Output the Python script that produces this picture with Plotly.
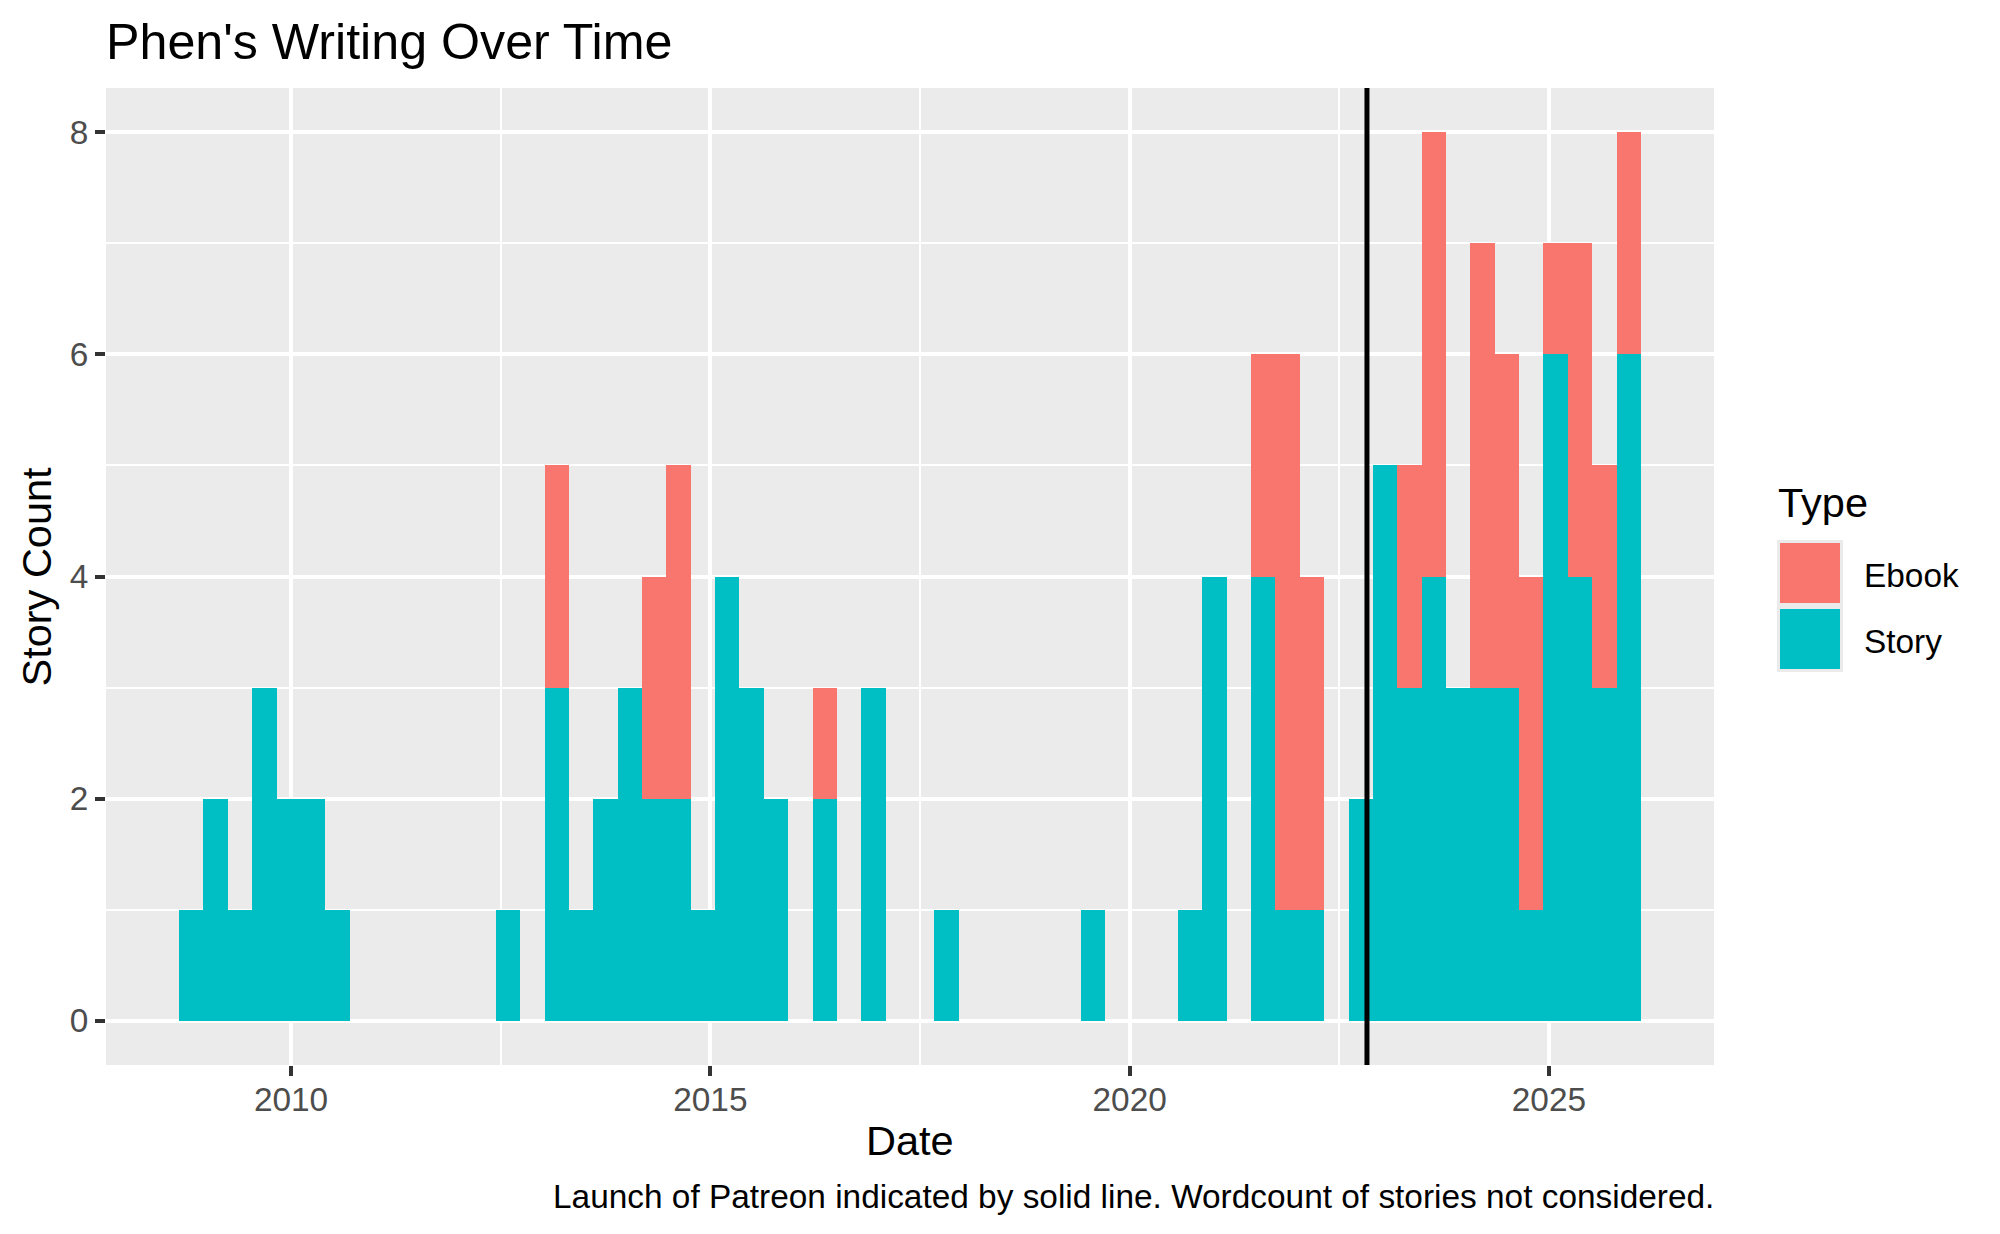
import plotly.graph_objects as go

# ---------------- data ----------------
BIN_START = 2008.665      # left edge of first histogram bin (decimal year)
BIN_WIDTH = 0.29053       # bin width in years (60 bins)

story_counts = [1, 2, 1, 3, 2, 2, 1, 0, 0, 0,
                0, 0, 0, 1, 0, 3, 1, 2, 3, 2,
                2, 1, 4, 3, 2, 0, 2, 0, 3, 0,
                0, 1, 0, 0, 0, 0, 0, 1, 0, 0,
                0, 1, 4, 0, 4, 1, 1, 0, 2, 5,
                3, 4, 3, 3, 3, 1, 6, 4, 3, 6]
ebook_counts = [0, 0, 0, 0, 0, 0, 0, 0, 0, 0,
                0, 0, 0, 0, 0, 2, 0, 0, 0, 2,
                3, 0, 0, 0, 0, 0, 1, 0, 0, 0,
                0, 0, 0, 0, 0, 0, 0, 0, 0, 0,
                0, 0, 0, 0, 2, 5, 3, 0, 0, 0,
                2, 4, 0, 4, 3, 3, 1, 3, 2, 2]

x_tick_vals = [2010, 2015, 2020, 2025]
x_tick_text = ["2010", "2015", "2020", "2025"]
x_minor_vals = [2007.5, 2012.5, 2017.5, 2022.5]
y_tick_vals = [0, 2, 4, 6, 8]
y_tick_text = ["0", "2", "4", "6", "8"]
y_minor_vals = [1, 3, 5, 7]
PATREON_LAUNCH = 2022.83

type_names = ["Ebook", "Story"]
type_colors = {"Ebook": "#F8766D", "Story": "#00BFC4"}

TITLE = "Phen's Writing Over Time"
X_TITLE = "Date"
Y_TITLE = "Story Count"
CAPTION = "Launch of Patreon indicated by solid line. Wordcount of stories not considered."

# ---------------- derived ----------------
n_bins = len(story_counts)
bin_centers = [BIN_START + (i + 0.5) * BIN_WIDTH for i in range(n_bins)]
data_lo = BIN_START
data_hi = BIN_START + n_bins * BIN_WIDTH
pad_x = 0.05 * (data_hi - data_lo)
x_range = [data_lo - pad_x, data_hi + pad_x]
y_max = max(s + e for s, e in zip(story_counts, ebook_counts))
y_range = [-0.05 * y_max, y_max * 1.05]

# ---------------- layout geometry (screen pixels; page has an 8px body margin) ----------------
OFF = 8
W, H = 2000 - 2 * OFF, 1234 - 2 * OFF
PANEL_L, PANEL_R, PANEL_T, PANEL_B = 106, 1714, 88, 1065
L = PANEL_L - OFF
R = OFF + W - PANEL_R
T = PANEL_T - OFF
B = OFF + H - PANEL_B
PW, PH = PANEL_R - PANEL_L, PANEL_B - PANEL_T


def px(x):
    return (x - PANEL_L) / PW


def py(y):
    return (PANEL_B - y) / PH


FONT = "Liberation Sans, Arial, sans-serif"
SMALL = 33.4
MID = 41.5
BIG = 50.2

fig = go.Figure()
fig.add_trace(go.Bar(x=bin_centers, y=story_counts, name="Story",
                     marker=dict(color=type_colors["Story"], line=dict(width=0)),
                     showlegend=False))
fig.add_trace(go.Bar(x=bin_centers, y=ebook_counts, name="Ebook",
                     marker=dict(color=type_colors["Ebook"], line=dict(width=0)),
                     showlegend=False))

fig.add_shape(type="line", xref="x", yref="paper", x0=PATREON_LAUNCH, x1=PATREON_LAUNCH,
              y0=0, y1=1, line=dict(color="black", width=5), layer="above")

# manual ggplot-like legend
fig.add_shape(type="rect", xref="paper", yref="paper", x0=px(1777), x1=px(1843),
              y0=py(672), y1=py(540), fillcolor="#EBEBEB", line=dict(width=0))
key_tops = {"Ebook": 543, "Story": 609}
for nm in type_names:
    t = key_tops[nm]
    fig.add_shape(type="rect", xref="paper", yref="paper", x0=px(1780), x1=px(1840),
                  y0=py(t + 60), y1=py(t), fillcolor=type_colors[nm], line=dict(width=0))

ann = []
ann.append(dict(text=TITLE, x=px(104), y=py(42), xanchor="left", yanchor="middle",
                font=dict(size=BIG, color="black")))
ann.append(dict(text=Y_TITLE, x=px(36), y=py(576.5), xanchor="center", yanchor="middle",
                textangle=-90, font=dict(size=MID, color="black")))
ann.append(dict(text=X_TITLE, x=px((PANEL_L + PANEL_R) / 2), y=py(1140), xanchor="center",
                yanchor="middle", font=dict(size=MID, color="black")))
ann.append(dict(text=CAPTION, x=px(1716), y=py(1196), xanchor="right", yanchor="middle",
                font=dict(size=SMALL, color="black")))
ann.append(dict(text="Type", x=px(1776), y=py(503), xanchor="left", yanchor="middle",
                font=dict(size=MID, color="black")))
lab_y = {"Ebook": 575, "Story": 641}
for nm in type_names:
    ann.append(dict(text=nm, x=px(1862), y=py(lab_y[nm]), xanchor="left", yanchor="middle",
                    font=dict(size=SMALL, color="black")))
for a in ann:
    a.update(xref="paper", yref="paper", showarrow=False)

fig.update_layout(
    width=W, height=H, autosize=False,
    margin=dict(l=L, r=R, t=T, b=B, pad=0),
    paper_bgcolor="white", plot_bgcolor="#EBEBEB",
    barmode="stack", bargap=0,
    font=dict(family=FONT, size=SMALL, color="#4D4D4D"),
    annotations=ann,
    showlegend=False,
    xaxis=dict(range=x_range, tickmode="array", tickvals=x_tick_vals, ticktext=x_tick_text,
               ticks="outside", ticklen=10, tickwidth=4, tickcolor="#333333",
               tickfont=dict(size=SMALL, color="#4D4D4D"), ticklabelstandoff=-5,
               showgrid=True, gridcolor="white", gridwidth=4, zeroline=False, showline=False,
               minor=dict(tickmode="array", tickvals=x_minor_vals, showgrid=True,
                          gridcolor="white", gridwidth=2, ticks=""),
               fixedrange=True),
    yaxis=dict(range=y_range, tickmode="array", tickvals=y_tick_vals, ticktext=y_tick_text,
               ticks="outside", ticklen=10, tickwidth=4, tickcolor="#333333",
               tickfont=dict(size=SMALL, color="#4D4D4D"),
               showgrid=True, gridcolor="white", gridwidth=4, zeroline=False, showline=False,
               minor=dict(tickmode="array", tickvals=y_minor_vals, showgrid=True,
                          gridcolor="white", gridwidth=2, ticks=""),
               fixedrange=True),
)

fig.write_html("out.html")
